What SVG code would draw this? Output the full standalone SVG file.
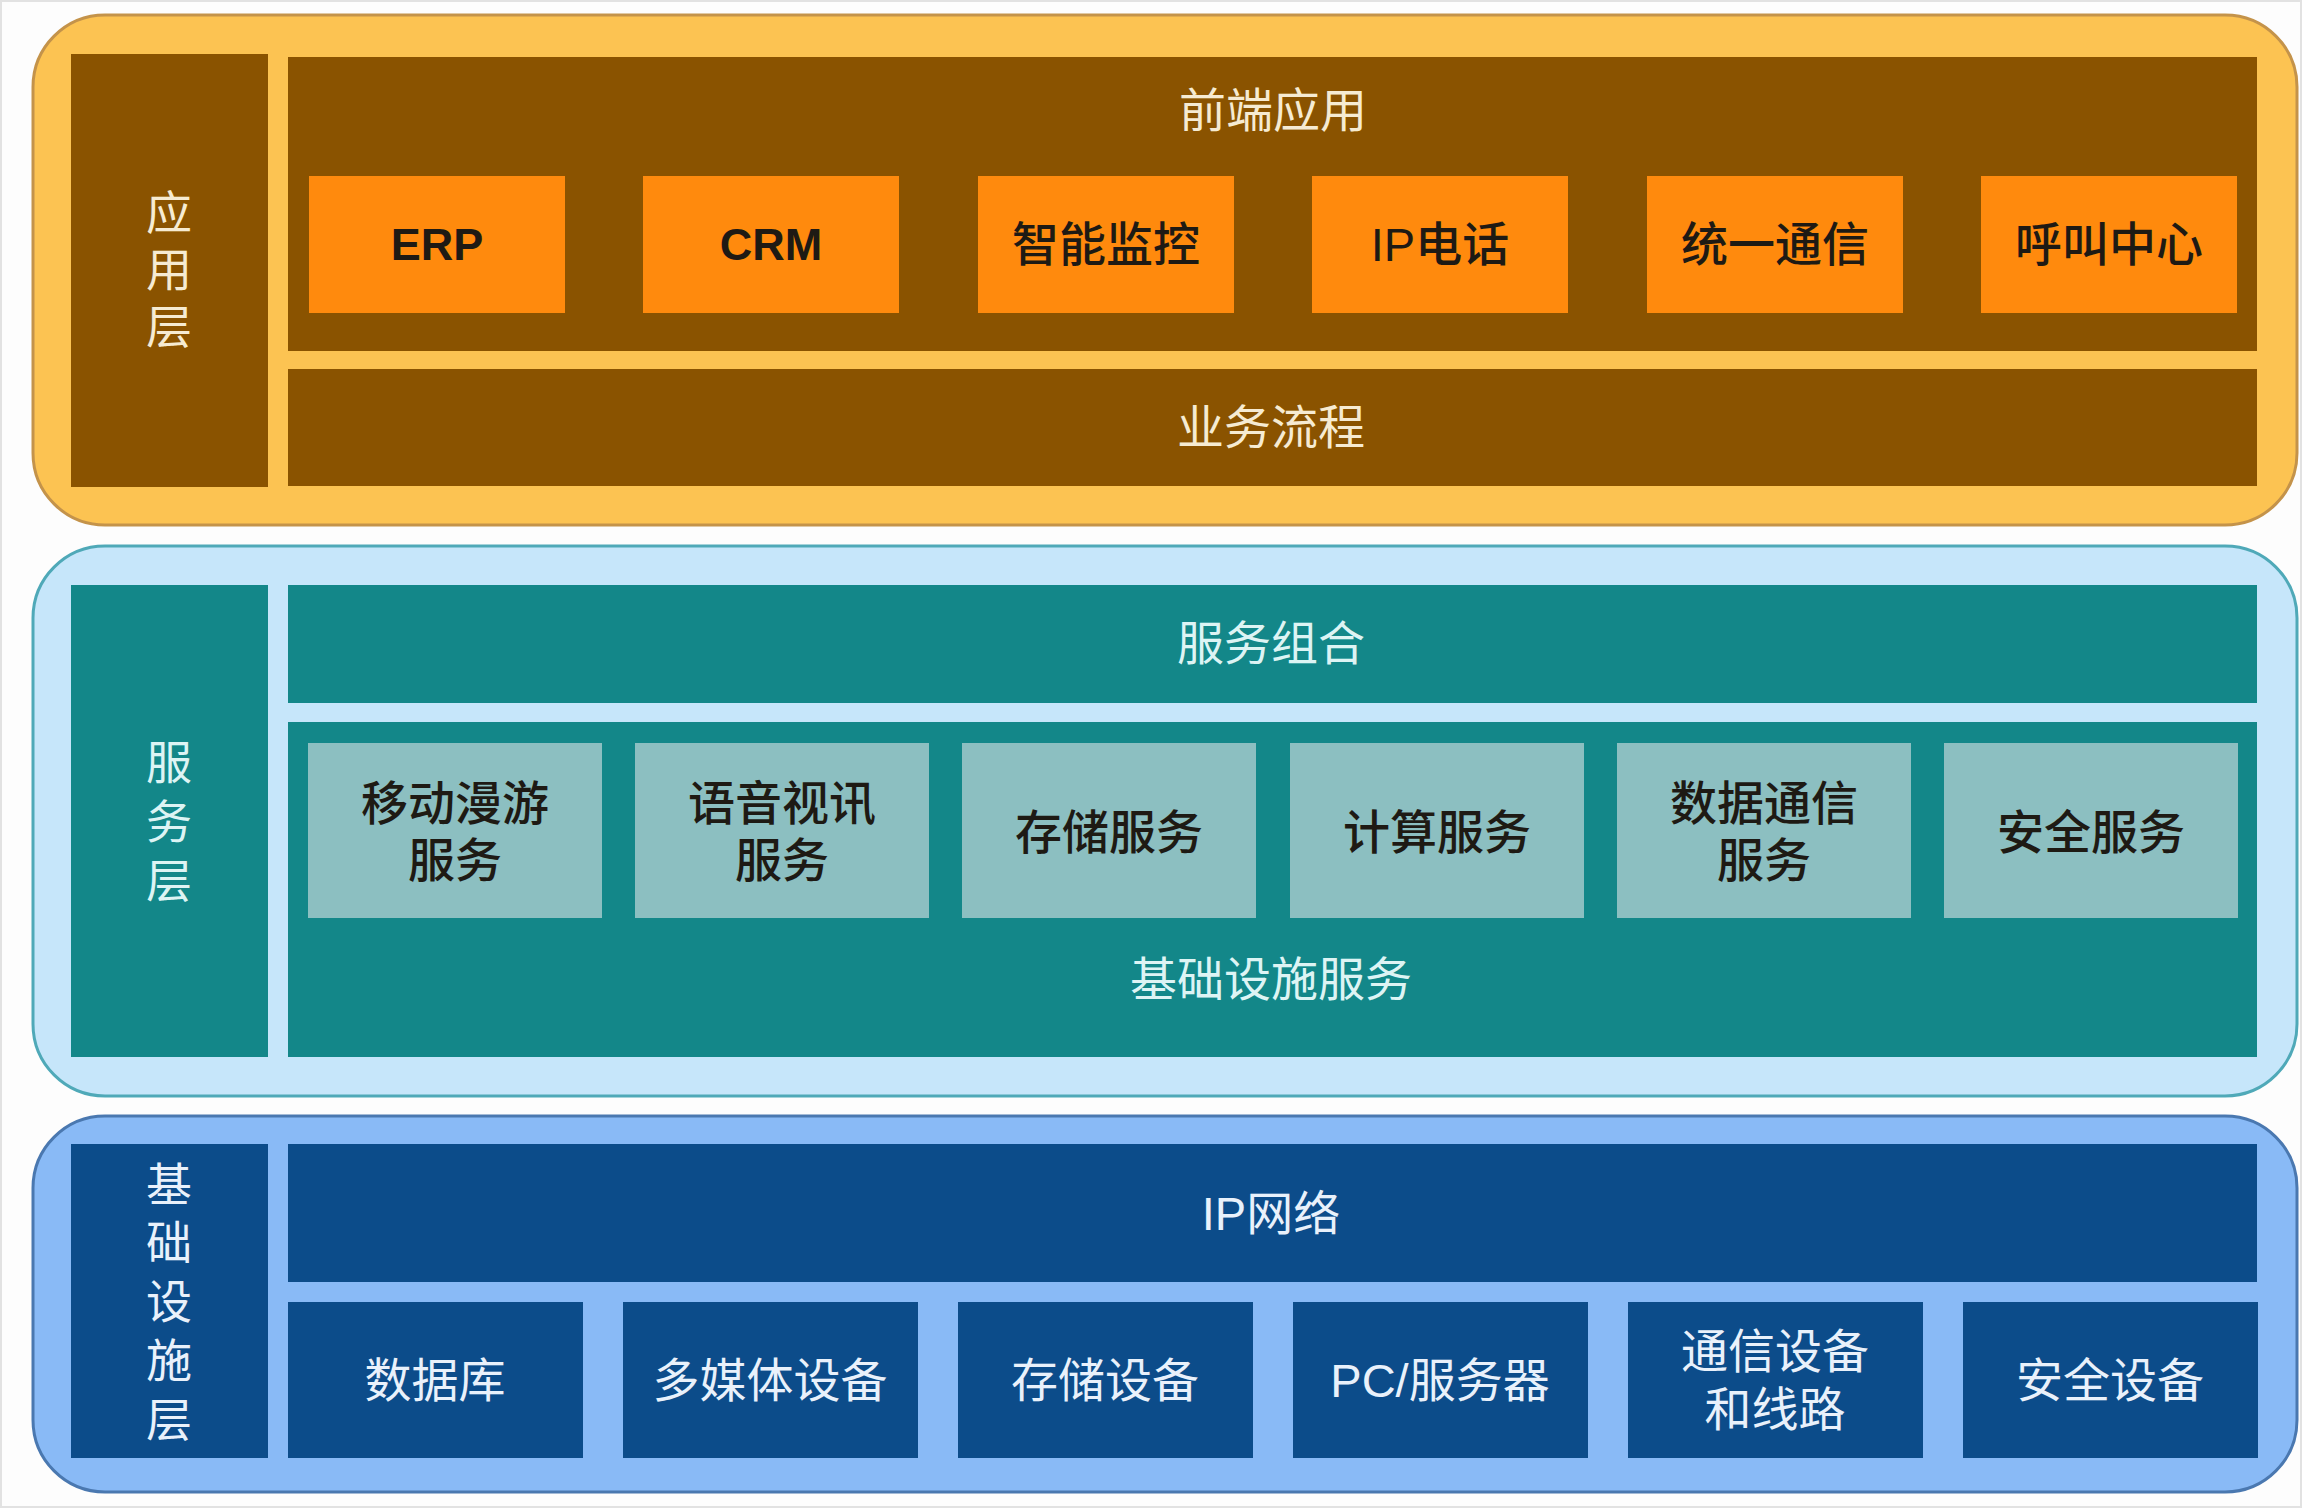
<svg xmlns="http://www.w3.org/2000/svg" width="2302" height="1508" viewBox="0 0 2302 1508">
<style>
text{font-family:"Liberation Sans","Noto Sans CJK SC",sans-serif;text-anchor:middle;dominant-baseline:central;font-size:47px}
.lt{fill:#F6EBD2}
.tl{fill:#DDF4F4}
.nl{fill:#E9F1FB}
.dk{fill:#1E1A14;font-weight:500}
.en{font-weight:bold;font-size:45px}
.lab{font-size:46px}
.brown{fill:#8A5300}
.orange{fill:#FF8A0D}
.teal{fill:#138789}
.grey{fill:#8CBFC1}
.navy{fill:#0C4C8A}
</style>
<rect x="1" y="1" width="2300" height="1506" fill="#FDFDFD" stroke="#E2E2E2" stroke-width="2"/>
<g id="app-layer">
<rect x="33" y="15" width="2264" height="510" rx="72" fill="#FCC352" stroke="#C4934A" stroke-width="3"/>
<rect class="brown" x="71" y="54" width="197" height="433"/>
<text class="lt lab" x="169" y="213">应</text>
<text class="lt lab" x="169" y="270">用</text>
<text class="lt lab" x="169" y="327">层</text>
</g>
<g id="frontend">
<rect class="brown" x="288" y="57" width="1969" height="294"/>
<text class="lt" x="1273" y="110">前端应用</text>
</g>
<g id="erp"><rect class="orange" x="309" y="176" width="256" height="137"/><text class="dk en" x="437" y="244">ERP</text></g>
<g id="crm"><rect class="orange" x="643" y="176" width="256" height="137"/><text class="dk en" x="771" y="244">CRM</text></g>
<g id="monitor"><rect class="orange" x="978" y="176" width="256" height="137"/><text class="dk" x="1106" y="244">智能监控</text></g>
<g id="ipphone"><rect class="orange" x="1312" y="176" width="256" height="137"/><text class="dk" x="1440" y="244">IP电话</text></g>
<g id="uc"><rect class="orange" x="1647" y="176" width="256" height="137"/><text class="dk" x="1775" y="244">统一通信</text></g>
<g id="callcenter"><rect class="orange" x="1981" y="176" width="256" height="137"/><text class="dk" x="2109" y="244">呼叫中心</text></g>
<g id="bizflow">
<rect class="brown" x="288" y="369" width="1969" height="117"/>
<text class="lt" x="1271" y="427">业务流程</text>
</g>

<g id="svc-layer">
<rect x="33" y="546" width="2264" height="550" rx="72" fill="#C6E6FA" stroke="#4FA9B8" stroke-width="3"/>
<rect class="teal" x="71" y="585" width="197" height="472"/>
<text class="tl lab" x="169" y="763">服</text>
<text class="tl lab" x="169" y="822">务</text>
<text class="tl lab" x="169" y="881">层</text>
</g>
<g id="svc-compose">
<rect class="teal" x="288" y="585" width="1969" height="118"/>
<text class="tl" x="1271" y="643">服务组合</text>
</g>
<g id="infra-svc">
<rect class="teal" x="288" y="722" width="1969" height="335"/>
<text class="tl" x="1271" y="979">基础设施服务</text>
</g>
<g id="roaming"><rect class="grey" x="308" y="743" width="294" height="175"/><text class="dk" x="455" y="803">移动漫游</text><text class="dk" x="455" y="860">服务</text></g>
<g id="voice"><rect class="grey" x="635" y="743" width="294" height="175"/><text class="dk" x="782" y="803">语音视讯</text><text class="dk" x="782" y="860">服务</text></g>
<g id="storage-svc"><rect class="grey" x="962" y="743" width="294" height="175"/><text class="dk" x="1109" y="832">存储服务</text></g>
<g id="compute-svc"><rect class="grey" x="1290" y="743" width="294" height="175"/><text class="dk" x="1437" y="832">计算服务</text></g>
<g id="datacomm-svc"><rect class="grey" x="1617" y="743" width="294" height="175"/><text class="dk" x="1764" y="803">数据通信</text><text class="dk" x="1764" y="860">服务</text></g>
<g id="security-svc"><rect class="grey" x="1944" y="743" width="294" height="175"/><text class="dk" x="2091" y="832">安全服务</text></g>

<g id="infra-layer">
<rect x="33" y="1116" width="2264" height="376" rx="72" fill="#89BAF6" stroke="#4A78B0" stroke-width="3"/>
<rect class="navy" x="71" y="1144" width="197" height="314"/>
<text class="nl lab" x="169" y="1185">基</text>
<text class="nl lab" x="169" y="1243">础</text>
<text class="nl lab" x="169" y="1302">设</text>
<text class="nl lab" x="169" y="1361">施</text>
<text class="nl lab" x="169" y="1420">层</text>
</g>
<g id="ipnet">
<rect class="navy" x="288" y="1144" width="1969" height="138"/>
<text class="nl" x="1271" y="1213">IP网络</text>
</g>
<g id="db"><rect class="navy" x="288" y="1302" width="295" height="156"/><text class="nl" x="435" y="1380">数据库</text></g>
<g id="media"><rect class="navy" x="623" y="1302" width="295" height="156"/><text class="nl" x="770" y="1380">多媒体设备</text></g>
<g id="storage"><rect class="navy" x="958" y="1302" width="295" height="156"/><text class="nl" x="1105" y="1380">存储设备</text></g>
<g id="pc"><rect class="navy" x="1293" y="1302" width="295" height="156"/><text class="nl" x="1440" y="1380">PC/服务器</text></g>
<g id="comm"><rect class="navy" x="1628" y="1302" width="295" height="156"/><text class="nl" x="1775" y="1351">通信设备</text><text class="nl" x="1775" y="1409">和线路</text></g>
<g id="secdev"><rect class="navy" x="1963" y="1302" width="295" height="156"/><text class="nl" x="2110" y="1380">安全设备</text></g>
<g id="connectors"></g>
</svg>
